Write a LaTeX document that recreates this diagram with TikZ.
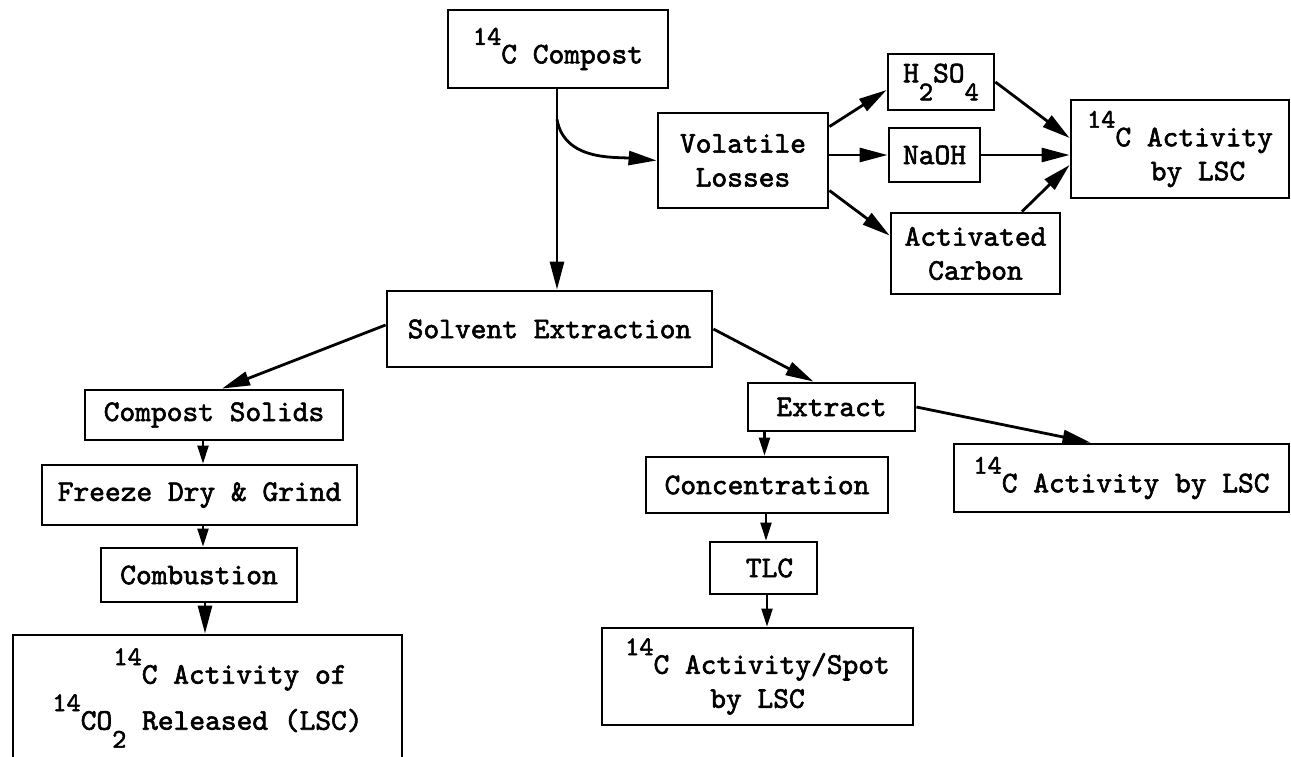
\documentclass[tikz,border=0pt]{standalone}
\usepackage{fontspec}
\setmonofont{lmmono10-regular.otf}[FakeBold=2]
\usetikzlibrary{arrows.meta,calc}
\newcommand{\isoup}[1]{\raisebox{0.62em}{\fontsize{27}{27}\selectfont #1}}
\newcommand{\isodn}[1]{\raisebox{-0.6em}{\fontsize{27}{27}\selectfont #1}}
\begin{document}
\begin{tikzpicture}[x=1pt,y=-1pt,
  box/.style={draw, line width=2.8pt, inner sep=0pt, align=center,
    font=\fontsize{30}{34}\selectfont\ttfamily},
  arr/.style={line width=2.8pt, -{Triangle[length=28pt,width=14pt]}},
  sarr/.style={line width=2.4pt, -{Triangle[length=18pt,width=11pt]}}]
\useasboundingbox[fill=white] (0,0) rectangle (1291,757);

% nodes
\node[box, minimum width=220pt, minimum height=78pt] (compost) at (558,49) {\isoup{14}C Compost};
\node[box, minimum width=170pt, minimum height=95pt] (volatile) at (743,160.5) {Volatile\\Losses};
\node[box, minimum width=106pt, minimum height=56pt] (h2so4) at (941,82) {H\isodn{2}SO\isodn{4}};
\node[box, minimum width=91pt, minimum height=54pt] (naoh) at (934.5,155) {NaOH};
\node[box, minimum width=169pt, minimum height=81pt] (activated) at (975.5,253.5) {Activated\\Carbon};
\node[box, minimum width=218pt, minimum height=98pt] (act1) at (1180,149) {\isoup{14}C Activity\\\hspace*{1.2em}by LSC};
\node[box, minimum width=325pt, minimum height=76pt] (solvent) at (549.5,329) {Solvent Extraction};
\node[box, minimum width=258pt, minimum height=50pt] (solids) at (214,415) {Compost Solids};
\node[box, minimum width=315pt, minimum height=60pt] (freeze) at (199.5,495) {Freeze Dry \& Grind};
\node[box, minimum width=196pt, minimum height=54pt] (combustion) at (199,575) {Combustion};
\node[box, minimum width=389pt, minimum height=126pt,
  font=\fontsize{30}{46}\selectfont\ttfamily] (co2) at (207.5,698) {\hspace*{1.5em}\isoup{14}C Activity of\\\isoup{14}CO\isodn{2} Released (LSC)};
\node[box, minimum width=167pt, minimum height=48pt] (extract) at (831.5,407) {Extract};
\node[box, minimum width=242pt, minimum height=56pt] (conc) at (767,485) {Concentration};
\node[box, minimum width=107pt, minimum height=52pt] (tlc) at (763.5,568) {\hspace*{0.4em}TLC};
\node[box, minimum width=311pt, minimum height=97pt] (spot) at (757.5,676.5) {\isoup{14}C Activity/Spot\\by LSC};
\node[box, minimum width=335pt, minimum height=68pt] (act2) at (1121.5,478) {\isoup{14}C Activity by LSC};

% connectors
\draw[arr] ($(compost.south)+(-1,0)$) -- ($(compost.south |- solvent.north)+(-1,0)$);
\coordinate (branch) at ($(compost.south)+(-1,30)$);
\draw[arr] (branch) to[out=-80,in=175] (volatile.west);
\draw[arr] ($(volatile.north east)+(0,15)$) -- ($(h2so4.west)+(0,8)$);
\draw[arr] (volatile.east |- naoh.west) -- (naoh.west);
\draw[arr] ($(volatile.east)+(0,30)$) -- ($(activated.west)+(0,-18)$);
\draw[arr] (h2so4.east) -- ($(act1.west)+(0,-11)$);
\draw[arr] (naoh.east) -- (act1.west |- naoh.east);
\draw[arr] ($(activated.north)+(46.5,0)$) -- ($(act1.west)+(0,16)$);
\draw[arr] ($(solvent.west)+(0,-4)$) -- ($(solids.north)+(8,0)$);
\draw[arr] (solvent.east) -- ($(extract.north)+(-18,0)$);
\draw[sarr] ($(solids.south)+(-11,0)$) -- ($(solids.south |- freeze.north)+(-11,0)$);
\draw[sarr] ($(freeze.south)+(3.5,0)$) -- ($(freeze.south |- combustion.north)+(3.5,0)$);
\draw[arr] ($(combustion.south)+(6,0)$) -- ($(combustion.south |- co2.north)+(6,0)$);
\draw[sarr] ($(extract.south)+(-67,0)$) -- ($(extract.south |- conc.north)+(-67,0)$);
\draw[sarr] ($(conc.south)+(-1,0)$) -- ($(conc.south |- tlc.north)+(-1,0)$);
\draw[sarr] ($(tlc.south)+(3.5,0)$) -- ($(tlc.south |- spot.north)+(3.5,0)$);
\draw[arr] (extract.east) -- ($(act2.north)+(-31,0)$);
\end{tikzpicture}
\end{document}
